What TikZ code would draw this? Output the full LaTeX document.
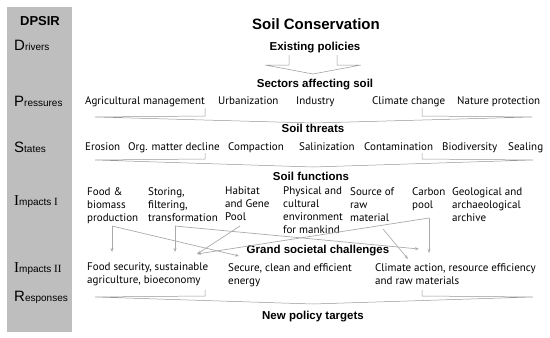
\documentclass[tikz,border=0pt]{standalone}
\usepackage{fontspec}
\setmainfont{PT Sans}
\newfontfamily\headfont{Liberation Sans}
\newfontfamily\serifI{Liberation Serif}
\usetikzlibrary{arrows.meta}
\definecolor{panelgray}{RGB}{190,190,190}
\definecolor{linegray}{RGB}{150,150,150}
\definecolor{arrgray}{RGB}{170,170,170}
\begin{document}
\begin{tikzpicture}[x=1pt,y=-1pt,
  body/.style={font=\fontsize{11}{13}\selectfont, inner sep=0pt, anchor=west, text height=8pt, text depth=2pt},
  multi/.style={font=\fontsize{11}{13}\selectfont, inner sep=0pt, anchor=north west, align=left},
  head/.style={font=\headfont\fontsize{11.5}{13}\selectfont\bfseries, inner sep=0pt, text height=8.5pt, text depth=2.5pt},
  side/.style={inner sep=0pt, anchor=west, font=\headfont},
  blockarrow/.style={draw=linegray, line width=0.5pt, line join=miter},
  flow/.style={draw=arrgray, line width=0.7pt, -{Stealth[length=4pt,width=3pt]}},
]
\useasboundingbox (0,0) rectangle (550,338);
\fill[panelgray] (7,7) rectangle (72,332);

% side labels
\node[inner sep=0pt, font=\headfont\bfseries\fontsize{13}{13}\selectfont] (dpsir) at (40,21) {DPSIR};
\node[side] (drv) at (14,45) {{\fontsize{15}{15}\selectfont D}{\fontsize{10}{10}\selectfont rivers}};
\node[side] (prs) at (14,101) {{\fontsize{15}{15}\selectfont P}{\fontsize{10}{10}\selectfont ressures}};
\node[side] (sts) at (14,147) {{\fontsize{15}{15}\selectfont S}{\fontsize{10}{10}\selectfont tates}};
\node[side] (imp1) at (14,202) {{\serifI\fontsize{15}{15}\selectfont I}{\fontsize{10}{10}\selectfont mpacts }{\serifI\fontsize{11}{11}\selectfont I}};
\node[side] (imp2) at (14,269) {{\serifI\fontsize{15}{15}\selectfont I}{\fontsize{10}{10}\selectfont mpacts }{\serifI\fontsize{11}{11}\selectfont II}};
\node[side] (rsp) at (14,297) {{\fontsize{15}{15}\selectfont R}{\fontsize{10}{10}\selectfont esponses}};

% headings
\node[inner sep=0pt, font=\headfont\bfseries\fontsize{15}{15}\selectfont] (title) at (316,24) {Soil Conservation};
\node[head] (exist) at (315,47) {Existing policies};
\node[head] (sect) at (315,84) {Sectors affecting soil};
\node[head] (threat) at (313,129) {Soil threats};
\node[head] (func) at (311,177) {Soil functions};
\node[head] (grand) at (318,250) {Grand societal challenges};
\node[head] (newp) at (313,316) {New policy targets};

% pressures
\node[body] (p1) at (85,101) {Agricultural management};
\node[body] (p2) at (218,101) {Urbanization};
\node[body] (p3) at (296,101) {Industry};
\node[body] (p4) at (372,101) {Climate change};
\node[body] (p5) at (457,101) {Nature protection};

% states
\node[body] (s1) at (85,147) {Erosion};
\node[body] (s2) at (128,147) {Org. matter decline};
\node[body] (s3) at (228,147) {Compaction};
\node[body] (s4) at (299,147) {Salinization};
\node[body] (s5) at (364,147) {Contamination};
\node[body] (s6) at (442,147) {Biodiversity};
\node[body] (s7) at (508,147) {Sealing};

% impacts I
\node[multi] (f1) at (87,187) {Food \&\\biomass\\production};
\node[multi] (f2) at (148,187) {Storing,\\filtering,\\transformation};
\node[multi] (f3) at (225,187) {Habitat\\and Gene\\Pool};
\node[multi] (f4) at (283,187) {Physical and\\cultural\\environment\\for mankind};
\node[multi] (f5) at (350,187) {Source of\\raw\\material};
\node[multi] (f6) at (412,187) {Carbon\\pool};
\node[multi] (f7) at (452,187) {Geological and\\archaeological\\archive};

% impacts II
\node[multi] (g1) at (87,263) {Food security, sustainable\\agriculture, bioeconomy};
\node[multi] (g2) at (228,263) {Secure, clean and efficient\\energy};
\node[multi] (g3) at (375,263) {Climate action, resource efficiency\\and raw materials};

% block arrows
\draw[blockarrow] (289,55) -- (289,65) -- (265,65) -- (313,74) -- (361,65) -- (337,65) -- (337,55);
\draw[blockarrow] (205,108) -- (205,116) -- (95,117) -- (313,123) -- (532,117) -- (422,116) -- (422,108);
\draw[blockarrow] (205,153) -- (205,159) -- (95,160) -- (313,167) -- (533,160) -- (422,159) -- (422,153);
\draw[blockarrow] (205,290) -- (205,296) -- (95,297) -- (313,304) -- (533,297) -- (422,296) -- (422,290);

% function arrows
\coordinate (fA) at (112,226);
\coordinate (fAe) at (112,252);
\coordinate (sA) at (175,226);
\coordinate (sAe) at (175,252);
\coordinate (hA) at (240,226);
\coordinate (cA) at (429,218);
\coordinate (cAe) at (429,253);
\coordinate (rA) at (383,229);
\coordinate (rAe) at (408,259);
\coordinate (foodIn) at (197,254);
\coordinate (secIn) at (239,256);
\coordinate (climIn) at (419,249);
\draw[flow] (fA) -- (fAe);
\draw[flow] (fA) -- (secIn);
\draw[flow] (sA) -- (sAe);
\draw[flow] (sA) -- (climIn);
\draw[flow] (hA) -- (foodIn);
\draw[flow] (cA) -- (cAe);
\draw[flow] (cA) -- (foodIn);
\draw[flow] (rA) -- (rAe);
\end{tikzpicture}
\end{document}
